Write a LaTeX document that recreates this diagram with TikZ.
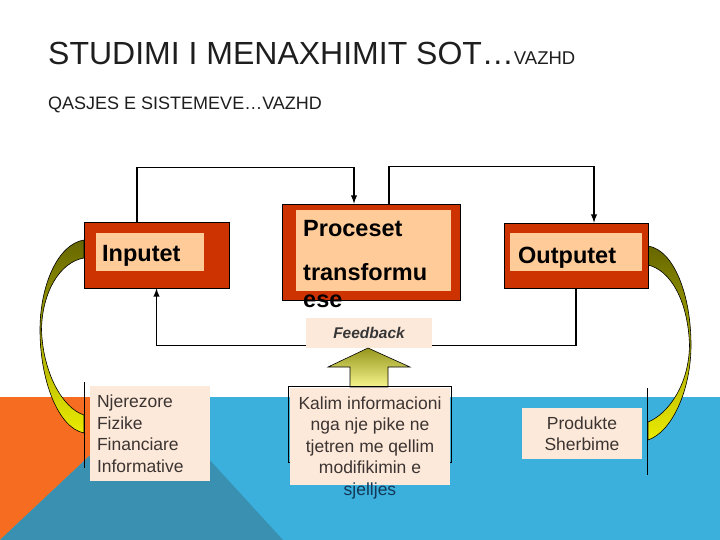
\documentclass[tikz,border=0pt]{standalone}
\usepackage{fontspec}
\setmainfont{Liberation Sans}

\definecolor{boxred}{RGB}{204,51,0}
\definecolor{boxpeach}{RGB}{255,204,153}
\definecolor{notepeach}{RGB}{253,233,217}
\definecolor{txtgray}{RGB}{60,52,50}
\definecolor{titlegray}{RGB}{30,30,30}
\definecolor{deepnavy}{RGB}{20,55,85}
\definecolor{bgorange}{RGB}{246,108,32}
\definecolor{bgblue}{RGB}{59,176,221}
\definecolor{bgteal}{RGB}{58,144,176}
\definecolor{arcolive}{RGB}{102,102,0}
\definecolor{arcyellow}{RGB}{235,235,0}

\tikzset{
  redbox/.style={draw, fill=boxred, line width=0.8pt, inner sep=0pt},
  innerbox/.style={fill=boxpeach, inner sep=0pt},
  boxlabel/.style={inner sep=0pt, font=\fontsize{23.5}{27}\selectfont\bfseries},
  notebox/.style={fill=notepeach, text=txtgray, inner sep=0pt, font=\fontsize{17.5}{21.5}\selectfont},
  flow/.style={line width=1.8pt, -latex},
  crescent/.style={draw, line width=0.6pt, top color=arcolive, bottom color=arcyellow},
  blockup/.style={draw, line width=0.6pt, top color={rgb,255:red,150;green,150;blue,30}, bottom color={rgb,255:red,245;green,245;blue,140}}
}

\begin{document}
\begin{tikzpicture}[x=1pt,y=-1pt]
			\useasboundingbox (0,0) rectangle (720,540);
			\fill[bgblue] (0,397) rectangle (720,540);
			\fill[bgorange] (0,397) -- (152,397) -- (0,540) -- cycle;
			\fill[bgteal] (0,540) -- (152,397) -- (283,540) -- cycle;
			
			\node[anchor=base west, inner sep=0pt, text=titlegray, font=\fontsize{32}{36}\selectfont] (title) at (48,65) {STUDIMI I MENAXHIMIT SOT…{\fontsize{18.5}{20}\selectfont VAZHD}};
			\node[anchor=base west, inner sep=0pt, text=titlegray, font=\fontsize{18}{20}\selectfont] (subtitle) at (48,110) {QASJES E SISTEMEVE…VAZHD};
			
			\draw[crescent] (84,240) .. controls (58,244) and (40,285) .. (40,330) .. controls (40,380) and (58,428) .. (84,433) -- (84,415) .. controls (62,408) and (43,372) .. (41.5,330) .. controls (42,292) and (60,262) .. (84,258) -- cycle;
			\draw[crescent] (648,246) .. controls (674,250) and (691,295) .. (691,345) .. controls (691,390) and (672,432) .. (648,440) -- (648,422) .. controls (668,414) and (689,385) .. (689.5,345) .. controls (688,300) and (670,270) .. (648,265) -- cycle;
			\draw[line width=0.8pt] (84,382) -- (84,468);
			\draw[line width=0.8pt] (647,388) -- (647,475);
			
			\node[redbox, minimum width=145pt, minimum height=66pt] (inp) at (156.5,255) {};
			\node[innerbox, minimum width=108pt, minimum height=38pt] (inpin) at (150,252) {};
			\node[boxlabel, anchor=base west] (inptxt) at (102,261) {Inputet};
			
			\node[redbox, minimum width=178pt, minimum height=96pt] (proc) at (371,252) {};
			\node[innerbox, minimum width=155pt, minimum height=81pt] (procin) at (373.5,250.5) {};
			\node[boxlabel, anchor=base west, align=left] (proctxt) at (303,307) {Proceset\\[17pt]transformu\\ese};
			
			\node[redbox, minimum width=144pt, minimum height=65pt] (outp) at (576,255.5) {};
			\node[innerbox, minimum width=132pt, minimum height=38pt] (outpin) at (576,252) {};
			\node[boxlabel, anchor=base west] (outptxt) at (518,263) {Outputet};
			
			\draw[flow] ([xshift=-19.5pt]inp.north) -- ++(0,-54) -| ([xshift=-17pt]proc.north);
			\draw[flow] ([xshift=18pt]proc.north) -- ++(0,-37) -| ([xshift=18pt]outp.north);
			\draw[flow] (outp.south) -- ++(0,57) -| (inp.south);
			
			\node[notebox, minimum width=126pt, minimum height=30pt, text={rgb,255:red,55;green,55;blue,55}, font=\fontsize{15.5}{18}\selectfont\bfseries\itshape] (fb) at (369,333) {Feedback};
			\draw[blockup] (368,348) -- (410,367) -- (388,367) -- (388,387) -- (350,387) -- (350,367) -- (328,367) -- cycle;
			
			\node[draw, line width=0.8pt, inner sep=0pt, minimum width=163pt, minimum height=76pt] (kalimfr) at (369.5,424) {};
			\node[notebox, minimum width=160pt, minimum height=97pt] (kalim) at (369.5,436.5) {};
			\node[anchor=base, inner sep=0pt, align=center, text=txtgray, font=\fontsize{17.5}{21.5}\selectfont] (kalimtxt) at (370,495) {Kalim informacioni\\nga nje pike ne\\tjetren me qellim\\modifikimin e\\\textcolor{deepnavy}{sjelljes}};
			
			\node[notebox, minimum width=120pt, minimum height=95pt, text width=106pt, inner xsep=7pt, align=left] (res) at (150,433.5) {Njerezore\\Fizike\\Financiare\\Informative};
			\node[notebox, minimum width=120pt, minimum height=51pt, align=center] (prod) at (582,433.5) {Produkte\\Sherbime};
		\end{tikzpicture}
\end{document}
